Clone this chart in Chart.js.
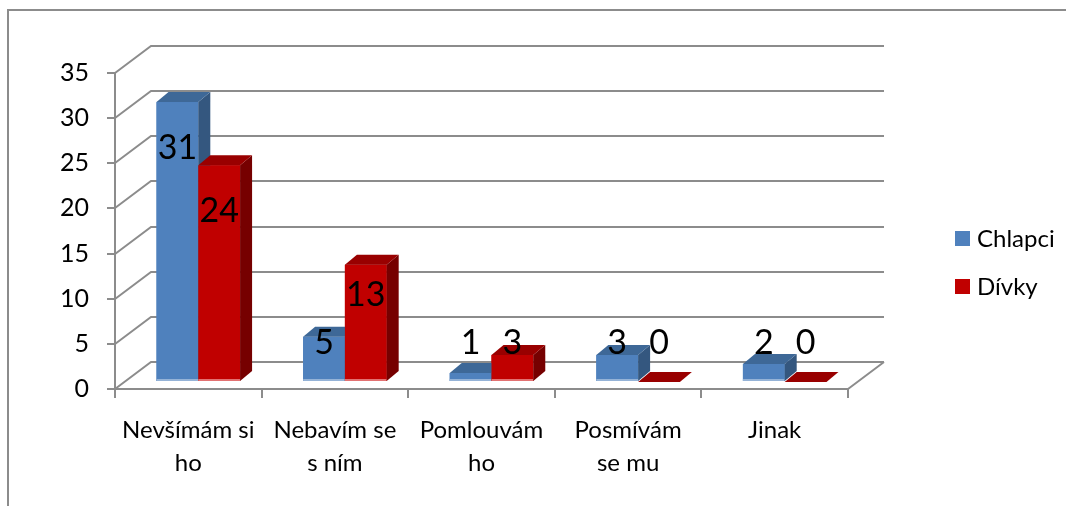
<!DOCTYPE html>
<html lang="cs">
<head>
<meta charset="UTF-8">
<title>Chlapci a dívky</title>
<script src="https://cdn.jsdelivr.net/npm/chart.js"></script>
<style>
    html, body { margin: 0; padding: 0; background: #fff; }
    #wrap { position: relative; width: 1066px; height: 506px; }
</style>
</head>
<body>
<div id="wrap"><canvas id="chart"></canvas></div>
<script>
// data
const categories = [['Nevšímám si', 'ho'], ['Nebavím se', 's ním'], ['Pomlouvám', 'ho'], ['Posmívám', 'se mu'], ['Jinak']];
const seriesNames = ['Chlapci', 'Dívky'];
const boys = [31, 5, 1, 3, 2];
const girls = [24, 13, 3, 0, 0];
const yMin = 0, yMax = 35, yStep = 5;

// look
const GRID = '#8c8c8c';
const WALL_DX = 36, WALL_DY = -27;   // back wall offset
const BAR_DX = 10, BAR_DY = -7;      // bars stand a little behind the front edge
const BOX_DX = 12, BOX_DY = -10;     // depth of one bar
const LABEL_FLOOR = 4.3;             // small values get their label lifted to this level
const shades = [
    { front: '#4f81bd', top: '#3e6897', side: '#34577f', edge: '#95b3d7' },
    { front: '#c00000', top: '#990000', side: '#760000', edge: '#e27272' }
];

Chart.defaults.font.family = 'Lato';
Chart.defaults.color = '#000';

// outer frame of the chart object
const frame = {
    id: 'frame',
    beforeDraw(chart) {
        const ctx = chart.ctx;
        ctx.save();
        ctx.strokeStyle = GRID;
        ctx.lineWidth = 2;
        ctx.beginPath();
        ctx.moveTo(8, chart.height + 5);
        ctx.lineTo(8, 10);
        ctx.lineTo(chart.width + 5, 10);
        ctx.stroke();
        ctx.restore();
    }
};

// side wall, back wall and floor
const walls = {
    id: 'walls',
    beforeDatasetsDraw(chart) {
        const { ctx, chartArea: a, scales: { y } } = chart;
        ctx.save();
        ctx.strokeStyle = GRID;
        ctx.lineWidth = 2;
        ctx.beginPath();
        y.ticks.forEach(t => {
            const py = Math.round(y.getPixelForValue(t.value));
            ctx.moveTo(a.left, py);
            ctx.lineTo(a.left + WALL_DX, py + WALL_DY);
            ctx.lineTo(a.right + WALL_DX, py + WALL_DY);
        });
        ctx.moveTo(a.right, a.bottom);
        ctx.lineTo(a.right + WALL_DX, a.bottom + WALL_DY);
        ctx.stroke();
        ctx.restore();
    }
};

// turn the flat bars into boxes
const boxes = {
    id: 'boxes',
    beforeDatasetsDraw(chart) {
        chart.ctx.save();
        chart.ctx.translate(BAR_DX, BAR_DY);
    },
    afterDatasetsDraw(chart) {
        const ctx = chart.ctx;
        chart.data.datasets.forEach((ds, di) => {
            const c = shades[di];
            chart.getDatasetMeta(di).data.forEach(bar => {
                const { x, y, width, base } = bar.getProps(['x', 'y', 'width', 'base'], true);
                const l = x - width / 2, r = x + width / 2;
                // front
                ctx.fillStyle = c.front;
                ctx.fillRect(l, y, width, base - y);
                if (base - y > 2) {
                    ctx.fillStyle = c.edge;
                    ctx.fillRect(l, base - 2, width, 2);
                }
                // side
                ctx.fillStyle = c.side;
                ctx.beginPath();
                ctx.moveTo(r, y);
                ctx.lineTo(r + BOX_DX, y + BOX_DY);
                ctx.lineTo(r + BOX_DX, base + BOX_DY);
                ctx.lineTo(r, base);
                ctx.closePath();
                ctx.fill();
                // top
                ctx.fillStyle = c.top;
                ctx.beginPath();
                ctx.moveTo(l, y);
                ctx.lineTo(r, y);
                ctx.lineTo(r + BOX_DX, y + BOX_DY);
                ctx.lineTo(l + BOX_DX, y + BOX_DY);
                ctx.closePath();
                ctx.fill();
            });
        });
        ctx.restore();
    }
};

// value labels
const valueLabels = {
    id: 'valueLabels',
    afterDraw(chart) {
        const { ctx, scales: { y } } = chart;
        const floor = y.getPixelForValue(LABEL_FLOOR) + BAR_DY;
        ctx.save();
        ctx.font = '34px Lato';
        ctx.fillStyle = '#000';
        ctx.textAlign = 'center';
        ctx.textBaseline = 'middle';
        chart.data.datasets.forEach((ds, di) => {
            chart.getDatasetMeta(di).data.forEach((bar, i) => {
                const { x, y: top, base } = bar.getProps(['x', 'y', 'base'], true);
                const h = base - top;
                const cy = Math.min(top + BAR_DY + Math.min(46, h * 0.26), floor);
                ctx.fillText(String(ds.data[i]), x + BAR_DX, cy);
            });
        });
        ctx.restore();
    }
};

// legend on the right
const LEGEND_X = 955, LEGEND_TOP = 231, LEGEND_GAP = 48;
const sideLegend = {
    id: 'sideLegend',
    afterDraw(chart) {
        const ctx = chart.ctx;
        ctx.save();
        ctx.font = '24px Lato';
        ctx.textBaseline = 'middle';
        chart.data.datasets.forEach((ds, i) => {
            const top = LEGEND_TOP + i * LEGEND_GAP;
            ctx.fillStyle = ds.backgroundColor;
            ctx.fillRect(LEGEND_X, top, 15, 15);
            ctx.fillStyle = '#000';
            ctx.fillText(ds.label, LEGEND_X + 22, top + 8);
        });
        ctx.restore();
    }
};

new Chart(document.getElementById('chart'), {
    type: 'bar',
    data: {
        labels: categories,
        datasets: [
            { label: seriesNames[0], data: boys, backgroundColor: shades[0].front },
            { label: seriesNames[1], data: girls, backgroundColor: shades[1].front }
        ]
    },
    options: {
        responsive: true,
        maintainAspectRatio: false,
        animation: false,
        categoryPercentage: 0.57,
        barPercentage: 1,
        layout: { padding: { top: 73, right: 218, left: 0, bottom: 0 } },
        plugins: { legend: { display: false }, tooltip: { enabled: false } },
        scales: {
            x: {
                grid: { offset: true, drawOnChartArea: false, tickLength: 9, color: GRID, lineWidth: 2 },
                border: { color: GRID, width: 2 },
                ticks: { font: { size: 24, lineHeight: 1.38 }, padding: 16, maxRotation: 0, autoSkip: false },
                afterFit(s) { s.height = 117; }
            },
            y: {
                min: yMin,
                max: yMax,
                grid: { drawOnChartArea: false, tickLength: 8, color: GRID, lineWidth: 2 },
                border: { color: GRID, width: 2 },
                ticks: { stepSize: yStep, font: { size: 25 }, padding: 18 },
                afterFit(s) { s.width = 115; }
            }
        }
    },
    plugins: [frame, walls, boxes, valueLabels, sideLegend]
});
</script>
</body>
</html>
